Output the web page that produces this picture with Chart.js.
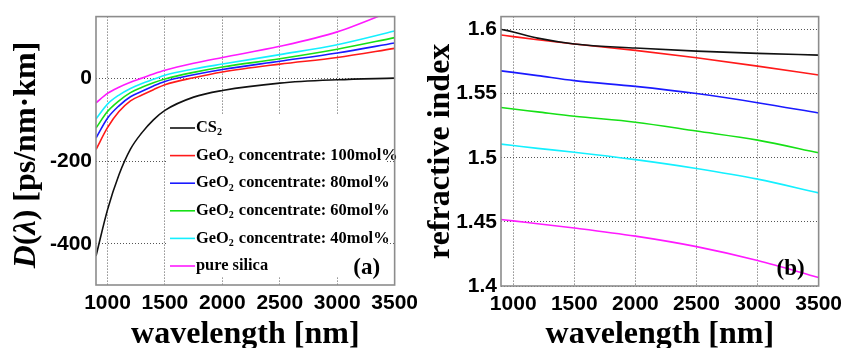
<!doctype html>
<html lang="en">
<head>
<meta charset="UTF-8">
<script src="https://cdn.jsdelivr.net/npm/chart.js@4.4.0/dist/chart.umd.min.js"></script>
<title>Dispersion and refractive index</title>
<style>
    *, ::before, ::after { margin: 0; padding: 0; box-sizing: border-box; }
    body { width: 848px; height: 348px; overflow: hidden; background: #fff; display: flex; }
    .panel { position: relative; width: 424px; height: 348px; }
</style>
</head>
<body>
<div class="panel"><canvas id="chartA" width="424" height="348"></canvas></div>
<div class="panel"><canvas id="chartB" width="424" height="348"></canvas></div>
<script>
// series names and colours (same order in both panels)
const seriesLabels = [
    "CS₂",
    "GeO₂ concentrate: 100mol%",
    "GeO₂ concentrate: 80mol%",
    "GeO₂ concentrate: 60mol%",
    "GeO₂ concentrate: 40mol%",
    "pure silica"
];
const seriesColors = ["#111111", "#ff1a1a", "#1a1aff", "#16e016", "#14f0ff", "#ff1aff"];

// (a) dispersion D(lambda) [ps/nm.km]
const wavelengthA = [900, 1000, 1100, 1200, 1300, 1400, 1500, 1750, 2000, 2500, 3000, 3500];
const dispCS2   = [-430, -318, -233, -171, -131, -100, -77, -45, -29, -11, -3, 1];
const dispGe100 = [-172, -119, -80, -54, -40, -27, -15, 2, 16, 35, 51, 73];
const dispGe80  = [-144, -96, -66, -44, -31, -18, -7, 9, 22, 42, 62, 86];
const dispGe60  = [-120, -80, -54, -34, -21, -10, -1, 15, 28, 48, 71, 99];
const dispGe40  = [-98, -62, -40, -24, -12, -2, 8, 23, 35, 58, 82, 115];
const dispSilica = [-59, -36, -21, -9, 1, 11, 20, 37, 51, 78, 113, 166];

// (b) refractive index
const wavelengthB = [900, 1000, 1200, 1500, 2000, 2500, 3000, 3500];
const indexCS2    = [1.6002, 1.5980, 1.5932, 1.5887, 1.5855, 1.5831, 1.5813, 1.5800];
const indexGe100  = [1.5957, 1.5944, 1.5919, 1.5886, 1.5837, 1.5779, 1.5714, 1.5645];
const indexGe80   = [1.5677, 1.5665, 1.5640, 1.5601, 1.5556, 1.5500, 1.5429, 1.5348];
const indexGe60   = [1.5391, 1.5380, 1.5357, 1.5323, 1.5277, 1.5208, 1.5137, 1.5038];
const indexGe40   = [1.5106, 1.5095, 1.5073, 1.5043, 1.4985, 1.4916, 1.4833, 1.4726];
const indexSilica = [1.4518, 1.4508, 1.4485, 1.4452, 1.4389, 1.4307, 1.4199, 1.4067];

// tick labels
const xTicks = [1000, 1500, 2000, 2500, 3000, 3500];
const yTicksA = [-400, -200, 0];
const yTicksB = [1.4, 1.45, 1.5, 1.55, 1.6];

const SERIF = '"Liberation Serif", "Times New Roman", serif';
const SANS = '"Liberation Sans", Arial, sans-serif';

function makeDatasets(xs, rows) {
    return rows.map((ys, i) => ({
        label: seriesLabels[i],
        data: xs.map((x, j) => ({ x: x, y: ys[j] })),
        borderColor: seriesColors[i],
        borderWidth: 1.6,
        pointRadius: 0,
        fill: false,
        cubicInterpolationMode: "monotone"
    }));
}

// draw a label where "₂" becomes a small lowered 2
function drawSubText(ctx, text, x, y, size) {
    const parts = text.split("₂");
    parts.forEach((p, i) => {
        ctx.font = "bold " + size + "px " + SERIF;
        ctx.fillText(p, x, y);
        x += ctx.measureText(p).width;
        if (i < parts.length - 1) {
            ctx.font = "bold " + Math.round(size * 0.62) + "px " + SERIF;
            ctx.fillText("2", x, y + size * 0.3);
            x += ctx.measureText("2").width + 1;
        }
    });
}

// grey frame around the plot area + panel letter
function framePlugin(letter) {
    return {
        id: "frame",
        afterDatasetsDraw(chart) {
            const { ctx, chartArea: a } = chart;
            ctx.save();
            ctx.strokeStyle = "#8c8c8c";
            ctx.lineWidth = 1.6;
            ctx.strokeRect(a.left, a.top, a.right - a.left, a.bottom - a.top);
            ctx.fillStyle = "#000";
            ctx.font = "bold 23px " + SERIF;
            ctx.textAlign = "center";
            ctx.textBaseline = "middle";
            ctx.fillText(letter, a.right - 28, a.bottom - 17);
            ctx.restore();
        }
    };
}

// legend sitting inside panel (a) on a white box
const legendInside = {
    id: "legendInside",
    beforeDatasetsDraw(chart) {
        const { ctx, chartArea: a } = chart;
        ctx.save();
        ctx.fillStyle = "#fff";
        ctx.fillRect(a.left + 71, 115, a.right - a.left - 79, 162);
        ctx.restore();
    },
    afterDatasetsDraw(chart) {
        const { ctx, chartArea: a } = chart;
        ctx.save();
        ctx.textBaseline = "middle";
        ctx.fillStyle = "#000";
        chart.data.datasets.forEach((ds, i) => {
            const y = 128 + i * 27.6;
            ctx.strokeStyle = ds.borderColor;
            ctx.lineWidth = 1.6;
            ctx.beginPath();
            ctx.moveTo(a.left + 74, y);
            ctx.lineTo(a.left + 99, y);
            ctx.stroke();
            drawSubText(ctx, ds.label, a.left + 100, y, 16.4);
        });
        ctx.restore();
    }
};

// y title of panel (a) with italic D and lambda
const dispTitle = {
    id: "dispTitle",
    afterDraw(chart) {
        const ctx = chart.ctx;
        const segs = [
            ["D", "italic bold"], ["(", "bold"], ["λ", "italic bold"], [")", "bold"], [" [ps/nm·km]", "bold"]
        ];
        ctx.save();
        ctx.translate(35, 155);
        ctx.rotate(-Math.PI / 2);
        ctx.fillStyle = "#000";
        ctx.textBaseline = "alphabetic";
        let total = 0;
        segs.forEach(s => { ctx.font = s[1] + " 32px " + SERIF; total += ctx.measureText(s[0]).width; });
        let x = -total / 2;
        segs.forEach(s => {
            ctx.font = s[1] + " 32px " + SERIF;
            ctx.fillText(s[0], x, 0);
            x += ctx.measureText(s[0]).width;
        });
        ctx.restore();
    }
};

function makeOptions(o) {
    return {
        responsive: false,
        animation: false,
        layout: { padding: { top: o.padTop, right: o.padRight, left: 0, bottom: 0 } },
        plugins: { legend: { display: false }, tooltip: { enabled: false } },
        scales: {
            x: {
                type: "linear",
                min: 900,
                max: 3500,
                afterBuildTicks: s => { s.ticks = xTicks.map(v => ({ value: v })); },
                afterFit: s => { s.height = o.xHeight; },
                ticks: {
                    autoSkip: false,
                    maxRotation: 0,
                    padding: 6,
                    color: "#000",
                    font: { family: SANS, weight: "bold", size: 21 },
                    callback: v => String(v)
                },
                grid: { color: "#555", lineWidth: 1, drawTicks: false },
                border: { display: false, dash: [1, 2] },
                title: {
                    display: true,
                    text: "wavelength [nm]",
                    color: "#000",
                    font: { family: SERIF, weight: "bold", size: 32, lineHeight: 1 },
                    padding: { top: 0, bottom: -3 }
                }
            },
            y: {
                min: o.yMin,
                max: o.yMax,
                afterBuildTicks: s => { s.ticks = o.yTicks.map(v => ({ value: v })); },
                afterFit: s => { s.width = o.yWidth; },
                ticks: {
                    padding: 4,
                    color: "#000",
                    font: { family: SANS, weight: "bold", size: 21 },
                    callback: v => String(+v.toFixed(2))
                },
                grid: { color: "#555", lineWidth: 1, drawTicks: false },
                border: { display: false, dash: [1, 2] },
                title: {
                    display: !!o.yTitle,
                    text: o.yTitle || "",
                    color: "#000",
                    font: { family: SERIF, weight: "bold", size: 32, lineHeight: 1 },
                    padding: { top: 1, bottom: 0 }
                }
            }
        }
    };
}

new Chart(document.getElementById("chartA"), {
    type: "line",
    data: { datasets: makeDatasets(wavelengthA, [dispCS2, dispGe100, dispGe80, dispGe60, dispGe40, dispSilica]) },
    options: makeOptions({ yMin: -500, yMax: 150, yTicks: yTicksA, yWidth: 96, xHeight: 63, padTop: 15, padRight: 28 }),
    plugins: [legendInside, framePlugin("(a)"), dispTitle]
});

new Chart(document.getElementById("chartB"), {
    type: "line",
    data: { datasets: makeDatasets(wavelengthB, [indexCS2, indexGe100, indexGe80, indexGe60, indexGe40, indexSilica]) },
    options: makeOptions({ yMin: 1.4, yMax: 1.61, yTicks: yTicksB, yWidth: 77, xHeight: 62, padTop: 12, padRight: 27, yTitle: "refractive index" }),
    plugins: [framePlugin("(b)")]
});
</script>
</body>
</html>
